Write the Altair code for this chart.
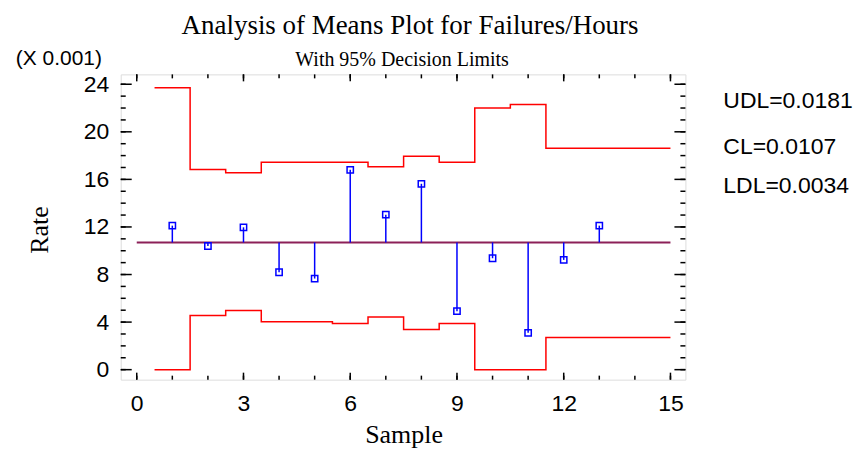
import altair as alt
import pandas as pd

# ---- data (rate in units of 0.001) ----
samples = list(range(1, 14))
rates = [12.11, 10.40, 11.97, 8.19, 7.66, 16.80, 13.03, 15.63, 4.92, 9.37, 3.10, 9.23, 12.11]
udl = [23.70, 16.83, 16.55, 17.45, 17.45, 17.45, 17.06, 17.95, 17.45, 22.00, 22.29, 18.62, 18.62]
ldl = [0.0, 4.56, 4.98, 4.03, 4.03, 3.89, 4.42, 3.38, 3.89, 0.0, 0.0, 2.71, 2.71]
cl_value = 10.7
x_major = [0, 3, 6, 9, 12, 15]
x_minor = list(range(0, 16))
y_major = [0, 4, 8, 12, 16, 20, 24]
y_minor = list(range(0, 25))
legend_lines = ["UDL=0.0181", "CL=0.0107", "LDL=0.0034"]

W, H = 566, 306
RED = "#FF0000"
BLUE = "#0000FF"
CLC = "#8C2058"
SANS = "Liberation Sans"
SERIF = "Liberation Serif"

xs = alt.Scale(domain=[-0.45, 15.42], nice=False, zero=False)
ys = alt.Scale(domain=[-0.84, 24.83], nice=False, zero=False)

# step-line tables
step_x = [s - 0.5 for s in samples] + [15]
lim_df = pd.DataFrame({
    "x": step_x * 2,
    "y": udl + [udl[-1]] + ldl + [ldl[-1]],
    "lim": ["UDL"] * len(step_x) + ["LDL"] * len(step_x),
})
pts = pd.DataFrame({"sample": samples, "rate": rates, "cl": [cl_value] * len(samples)})
cl_df = pd.DataFrame({"x": [0], "x2": [15], "y": [cl_value]})

base_x = alt.X("x:Q", scale=xs, axis=alt.Axis(values=x_major, title=None, domain=False, ticks=False,
                                                grid=False, labelFont=SANS, labelFontSize=23,
                                                labelColor="black", labelPadding=13, format="d"))
base_y = alt.Y("y:Q", scale=ys, axis=alt.Axis(values=y_major, title=None, domain=False, ticks=False,
                                                grid=False, labelFont=SANS, labelFontSize=23,
                                                labelColor="black", labelPadding=12, format="d"))

limits = alt.Chart(lim_df).mark_line(interpolate="step-after", color=RED, strokeWidth=1.5).encode(
    x=base_x, y=base_y, detail="lim:N")

cl_line = alt.Chart(cl_df).mark_rule(color=CLC, strokeWidth=2).encode(
    x=alt.X("x:Q", scale=xs), x2="x2:Q", y=alt.Y("y:Q", scale=ys))

stems = alt.Chart(pts).mark_rule(color=BLUE, strokeWidth=1.5).encode(
    x=alt.X("sample:Q", scale=xs), y=alt.Y("cl:Q", scale=ys), y2="rate:Q")

marks = alt.Chart(pts).mark_point(shape="square", filled=False, color=BLUE, size=40,
                                  strokeWidth=1.5, opacity=1).encode(
    x=alt.X("sample:Q", scale=xs), y=alt.Y("rate:Q", scale=ys))

# inward tick marks on all four sides
def xticks(vals, length):
    d = pd.DataFrame({"t": vals})
    b = alt.Chart(d).mark_rule(color="black", strokeWidth=1.5)
    bot = b.encode(x=alt.X("t:Q", scale=xs), y=alt.value(H), y2=alt.value(H - length))
    top = b.encode(x=alt.X("t:Q", scale=xs), y=alt.value(0), y2=alt.value(length))
    return [bot, top]

def yticks(vals, length):
    d = pd.DataFrame({"t": vals})
    b = alt.Chart(d).mark_rule(color="black", strokeWidth=1.5)
    left = b.encode(y=alt.Y("t:Q", scale=ys), x=alt.value(0), x2=alt.value(length))
    right = b.encode(y=alt.Y("t:Q", scale=ys), x=alt.value(W), x2=alt.value(W - length))
    return [left, right]

ticks = xticks(x_minor, 4) + xticks(x_major, 7) + yticks(y_minor, 5) + yticks(y_major, 11)

def label(text, x, y, font, size, align="center", angle=0):
    return alt.Chart(pd.DataFrame({"t": [text]})).mark_text(
        font=font, fontSize=size, align=align, baseline="middle", color="black", angle=angle
    ).encode(text="t:N", x=alt.value(x), y=alt.value(y))

texts = [
    label("Analysis of Means Plot for Failures/Hours", 290, -48, SERIF, 27),
    label("With 95% Decision Limits", 282, -14, SERIF, 20),
    label("(X 0.001)", -62, -15, SANS, 21),
    label("Rate", -81, 156, SERIF, 26, angle=270),
    label("Sample", 284, 362, SERIF, 26),
]
for i, t in enumerate(legend_lines):
    texts.append(label(t, 604, [27, 73, 112][i], SANS, 23, align="left"))

chart = alt.layer(limits, cl_line, stems, marks, *ticks, *texts).properties(
    width=W, height=H,
    autosize=alt.AutoSizeParams(type="none"),
    padding={"left": 113, "top": 66, "right": 170, "bottom": 75},
).configure_view(stroke="black", strokeWidth=2).configure(background="white")

chart.save("out.html", embed_options={"renderer": "svg", "actions": False})
